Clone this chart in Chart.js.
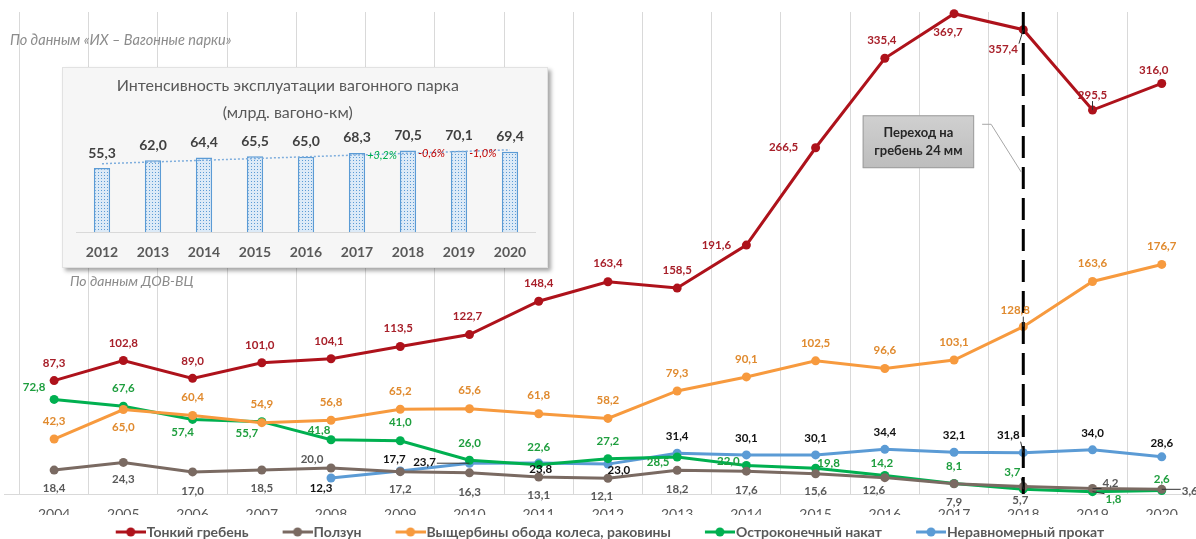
<!DOCTYPE html>
<html>
<head>
<meta charset="utf-8">
<script src="https://cdn.jsdelivr.net/npm/chart.js@4.4.0/dist/chart.umd.min.js"></script>
<style>
  html, body { margin: 0; padding: 0; background: #fff; overflow: hidden; width: 1196px; height: 539px; }
  #main { position: absolute; left: 0; top: 0; width: 1196px; height: 549px; }
  #insetBox { position: absolute; left: 62px; top: 67px; width: 484px; height: 199px; background: #F6F6F6;
              border: 1px solid #E2E2E2; box-shadow: 3px 3px 4px rgba(0,0,0,0.35); }
  #insetWrap { position: absolute; left: 40px; top: 72px; width: 500px; height: 190px; }
</style>
</head>
<body>
<div id="main"><canvas id="mainChart"></canvas></div>
<div id="insetBox"></div>
<div id="insetWrap"><canvas id="insetChart"></canvas></div>

<script>
// main chart data
const years = [2004, 2005, 2006, 2007, 2008, 2009, 2010, 2011, 2012, 2013, 2014, 2015, 2016, 2017, 2018, 2019, 2020];
const thinFlange = [87.3, 102.8, 89.0, 101.0, 104.1, 113.5, 122.7, 148.4, 163.4, 158.5, 191.6, 266.5, 335.4, 369.7, 357.4, 295.5, 316.0];
const slider     = [18.4, 24.3, 17.0, 18.5, 20.0, 17.2, 16.3, 13.1, 12.1, 18.2, 17.6, 15.6, 12.6, 7.9, 5.7, 4.2, 3.6];
const rimChips   = [42.3, 65.0, 60.4, 54.9, 56.8, 65.2, 65.6, 61.8, 58.2, 79.3, 90.1, 102.5, 96.6, 103.1, 128.8, 163.6, 176.7];
const sharpRoll  = [72.8, 67.6, 57.4, 55.7, 41.8, 41.0, 26.0, 22.6, 27.2, 28.5, 22.0, 19.8, 14.2, 8.1, 3.7, 1.8, 2.6];
const unevenWear = [null, null, null, null, 12.3, 17.7, 23.7, 23.8, 23.0, 31.4, 30.1, 30.1, 34.4, 32.1, 31.8, 34.0, 28.6];
const seriesNames = ['Тонкий гребень', 'Ползун', 'Выщербины обода колеса, раковины', 'Остроконечный накат', 'Неравномерный прокат'];
const seriesValues = [thinFlange, slider, rimChips, sharpRoll, unevenWear];
const switchYear = 2018;
const switchNote = ['Переход на', 'гребень 24 мм'];

// inset data
const insetYears = ['2012', '2013', '2014', '2015', '2016', '2017', '2018', '2019', '2020'];
const insetValues = [55.3, 62.0, 64.4, 65.5, 65.0, 68.3, 70.5, 70.1, 69.4];
const insetTrend = [59.0, 71.0];   // dotted trend line, read at 2012 and 2020
const insetChanges = ['+3,2%', '-0,6%', '-1,0%'];
const insetChangeYears = ['2017', '2018', '2019'];

// styles
const lineColors  = ['#AE121B', '#7A6A62', '#F79A3E', '#00B050', '#5B9BD5'];
const labelColors = ['#A8202A', '#595959', '#E08A2E', '#1E9E3E', '#111111'];

// label offsets [dx, dy] from each point
const labelShift = [
  [[0,-17],[0,-17],[0,-17],[-2,-17],[-2,-17],[-2,-18],[-2,-18],[0,-18],[0,-18],[0,-18],[-30,0],[-32,0],[-3,-18],[-6,19],[-20,20],[0,-15],[-8,-13]],
  [[0,18],[0,17],[0,19],[0,18],[-19,-9],[0,18],[0,19],[0,18],[-6,18],[0,19],[0,19],[0,18],[-11,13],[0,19],[-3,14],[18,-5],[28,2]],
  [[0,-18],[0,18],[0,-18],[0,-18],[0,-18],[0,-18],[0,-18],[0,-18],[0,-18],[0,-18],[0,-18],[0,-18],[0,-18],[0,-18],[-8,-16],[0,-18],[0,-18]],
  [[-20,-12],[0,-18],[-10,13],[-15,12],[-12,-9],[0,-18],[0,-17],[0,-17],[0,-17],[-19,5],[-18,-4],[13,-5],[-3,-12],[0,-17],[-11,-17],[21,8],[0,-11]],
  [null,null,null,null,[-10,10],[-6,-12],[-45,-1],[2,6],[11,6],[0,-17],[0,-17],[0,-17],[0,-17],[0,-17],[-15,-17],[0,-17],[0,-14]]
];
// labels that get a thin leader line: [series, year]
const leaders = [[0,2018],[0,2019],[2,2018],[4,2010],[4,2018],[3,2018],[3,2019],[1,2019],[1,2020]];

Chart.defaults.font.family = 'Lato';

function fmt(v) {
  return v.toFixed(1).replace('.', ',');
}

function legendIcon(color) {
  const c = document.createElement('canvas');
  c.width = 60; c.height = 12;
  const g = c.getContext('2d');
  g.strokeStyle = color; g.lineWidth = 3;
  g.beginPath(); g.moveTo(30, 6); g.lineTo(60, 6); g.stroke();
  g.fillStyle = color;
  g.beginPath(); g.arc(45, 6, 4.5, 0, Math.PI * 2); g.fill();
  return c;
}
const icons = lineColors.map(legendIcon);

const overlay = {
  id: 'overlay',
  afterDatasetsDraw(chart) {
    const { ctx, chartArea } = chart;
    const x = chart.scales.x, y = chart.scales.y;

    // dashed marker line
    const lx = x.getPixelForValue(switchYear);
    ctx.save();
    ctx.strokeStyle = '#000';
    ctx.lineWidth = 3;
    ctx.setLineDash([22, 9]);
    ctx.beginPath();
    ctx.moveTo(lx, chartArea.top);
    ctx.lineTo(lx, chartArea.bottom);
    ctx.stroke();
    ctx.setLineDash([]);

    // note box
    const bx0 = x.getPixelForValue(2015.68), bx1 = x.getPixelForValue(2017.29);
    const by0 = y.getPixelForValue(291.5), by1 = y.getPixelForValue(250.8);
    ctx.strokeStyle = '#A6A6A6';
    ctx.lineWidth = 1;
    ctx.beginPath();
    ctx.moveTo(bx1 + 8, by0 + 9);
    ctx.lineTo(bx1 + 17, by0 + 9);
    ctx.lineTo(lx - 2, by1 + 4);
    ctx.stroke();
    const grd = ctx.createLinearGradient(0, by0, 0, by1);
    grd.addColorStop(0, '#D0D0D0');
    grd.addColorStop(1, '#BDBDBD');
    ctx.fillStyle = grd;
    ctx.fillRect(bx0, by0, bx1 - bx0, by1 - by0);
    ctx.strokeStyle = '#9E9E9E';
    ctx.strokeRect(bx0 + 0.5, by0 + 0.5, bx1 - bx0 - 1, by1 - by0 - 1);
    ctx.fillStyle = '#262626';
    ctx.font = 'bold 13px Lato';
    ctx.textAlign = 'center';
    ctx.textBaseline = 'middle';
    ctx.fillText(switchNote[0], (bx0 + bx1) / 2, (by0 + by1) / 2 - 9);
    ctx.fillText(switchNote[1], (bx0 + bx1) / 2, (by0 + by1) / 2 + 9);

    // value labels
    ctx.font = 'bold 11.5px Lato';
    seriesValues.forEach((vals, k) => {
      const meta = chart.getDatasetMeta(k);
      meta.data.forEach((pt, i) => {
        const v = vals[i];
        if (v == null) return;
        const [dx, dy] = labelShift[k][i];
        const tx = pt.x + dx, ty = pt.y + dy;
        const txt = fmt(v);
        if (leaders.some(l => l[0] === k && l[1] === years[i])) {
          const w = ctx.measureText(txt).width / 2 + 1;
          const cx = Math.min(Math.max(pt.x, tx - w), tx + w);
          const cy = Math.min(Math.max(pt.y, ty - 6), ty + 6);
          ctx.strokeStyle = '#333';
          ctx.lineWidth = 1;
          ctx.beginPath();
          ctx.moveTo(cx, cy);
          ctx.lineTo(pt.x, pt.y);
          ctx.stroke();
        }
        ctx.fillStyle = labelColors[k];
        ctx.fillText(txt, tx, ty);
      });
    });

    // sources
    ctx.fillStyle = '#8C8C8C';
    ctx.font = 'italic 14.5px Lato';
    ctx.textAlign = 'left';
    ctx.fillText('По данным «ИХ – Вагонные парки»', 10, 40);
    ctx.font = 'italic 14px Lato';
    ctx.fillText('По данным ДОВ-ВЦ', 70, 281);
    ctx.restore();
  }
};

new Chart(document.getElementById('mainChart'), {
  type: 'line',
  data: {
    datasets: seriesValues.map((vals, k) => ({
      label: seriesNames[k],
      data: years.map((yr, i) => ({ x: yr, y: vals[i] })),
      borderColor: lineColors[k],
      backgroundColor: lineColors[k],
      borderWidth: 3,
      pointRadius: 4.5,
      pointHoverRadius: 4.5,
      pointBorderWidth: 0,
      tension: 0,
      clip: false
    }))
  },
  options: {
    responsive: true,
    maintainAspectRatio: false,
    animation: false,
    events: [],
    layout: { padding: { top: 12, left: 0, right: 0, bottom: 0 } },
    scales: {
      x: {
        type: 'linear',
        min: 2003.283,
        max: 2020.43,
        afterBuildTicks: ax => { ax.ticks = years.map(v => ({ value: v })); },
        afterFit: ax => { ax.height = 21; },
        grid: { offset: true, color: '#D9D9D9', lineWidth: 1, drawTicks: false },
        border: { display: true, color: '#D9D9D9', width: 1 },
        ticks: { padding: 12, color: '#595959', font: { size: 14 }, autoSkip: false, maxRotation: 0,
                 callback: v => String(v) }
      },
      y: { display: false, min: 0, max: 371 }
    },
    plugins: {
      tooltip: { enabled: false },
      legend: {
        position: 'bottom',
        labels: {
          usePointStyle: true,
          pointStyleWidth: 48,
          padding: 10,
          color: '#595959',
          font: { size: 14, weight: 'bold' },
          generateLabels: chart => chart.data.datasets.map((ds, i) => ({
            text: ds.label,
            pointStyle: icons[i],
            fillStyle: ds.borderColor,
            strokeStyle: ds.borderColor,
            lineWidth: 0,
            fontColor: '#595959',
            hidden: false,
            datasetIndex: i
          }))
        }
      }
    }
  },
  plugins: [overlay]
});

// inset chart
const dotTile = document.createElement('canvas');
dotTile.width = 3; dotTile.height = 3;
(function () {
  const g = dotTile.getContext('2d');
  g.fillStyle = '#DCEAF7'; g.fillRect(0, 0, 3, 3);
  g.fillStyle = '#5B9BD5'; g.fillRect(1, 1, 1, 1);
})();

const insetLabels = {
  id: 'insetLabels',
  afterDatasetsDraw(chart) {
    const ctx = chart.ctx;
    const bars = chart.getDatasetMeta(1).data;
    ctx.save();
    ctx.textAlign = 'center';
    ctx.textBaseline = 'middle';
    ctx.font = 'bold 14px Lato';
    ctx.fillStyle = '#404040';
    bars.forEach((b, i) => ctx.fillText(fmt(insetValues[i]), b.x, b.y - 15));
    ctx.font = 'italic 11px Lato';
    ctx.textAlign = 'left';
    insetChangeYears.forEach((yr, j) => {
      const b = bars[insetYears.indexOf(yr)];
      ctx.fillStyle = insetChanges[j][0] === '+' ? '#00B050' : '#C00000';
      ctx.fillText(insetChanges[j], b.x + b.width / 2 + 2, b.y + 3);
    });
    ctx.restore();
  }
};

new Chart(document.getElementById('insetChart'), {
  type: 'bar',
  data: {
    labels: insetYears,
    datasets: [
      {
        type: 'line',
        data: [{ x: insetYears[0], y: insetTrend[0] }, { x: insetYears[insetYears.length - 1], y: insetTrend[1] }],
        borderColor: '#7FAEDD',
        borderWidth: 1.5,
        borderDash: [2, 2],
        pointRadius: 0,
        order: 0
      },
      {
        type: 'bar',
        data: insetValues,
        backgroundColor: c => c.chart.ctx.createPattern(dotTile, 'repeat'),
        borderColor: '#5B9BD5',
        borderWidth: 1.5,
        categoryPercentage: 1,
        barPercentage: 0.32,
        order: 1
      }
    ]
  },
  options: {
    responsive: true,
    maintainAspectRatio: false,
    animation: false,
    events: [],
    layout: { padding: { right: 4.5 } },
    scales: {
      x: {
        grid: { display: false, drawTicks: false },
        border: { display: true, color: '#D9D9D9' },
        afterFit: s => { s.height = 30; },
        ticks: { padding: 12, color: '#595959', font: { size: 14, weight: 'bold' } }
      },
      y: {
        min: 0, max: 80,
        ticks: { display: false },
        grid: { display: false, drawTicks: false },
        border: { display: false },
        afterFit: s => { s.width = 36.5; }
      }
    },
    plugins: {
      tooltip: { enabled: false },
      legend: { display: false },
      title: {
        display: true,
        text: ['Интенсивность эксплуатации вагонного парка', '(млрд. вагоно-км)'],
        color: '#595959',
        font: { size: 16, weight: 'normal', lineHeight: 1.7 },
        padding: { top: 0, bottom: 13 }
      }
    }
  },
  plugins: [insetLabels]
});
</script>
</body>
</html>
